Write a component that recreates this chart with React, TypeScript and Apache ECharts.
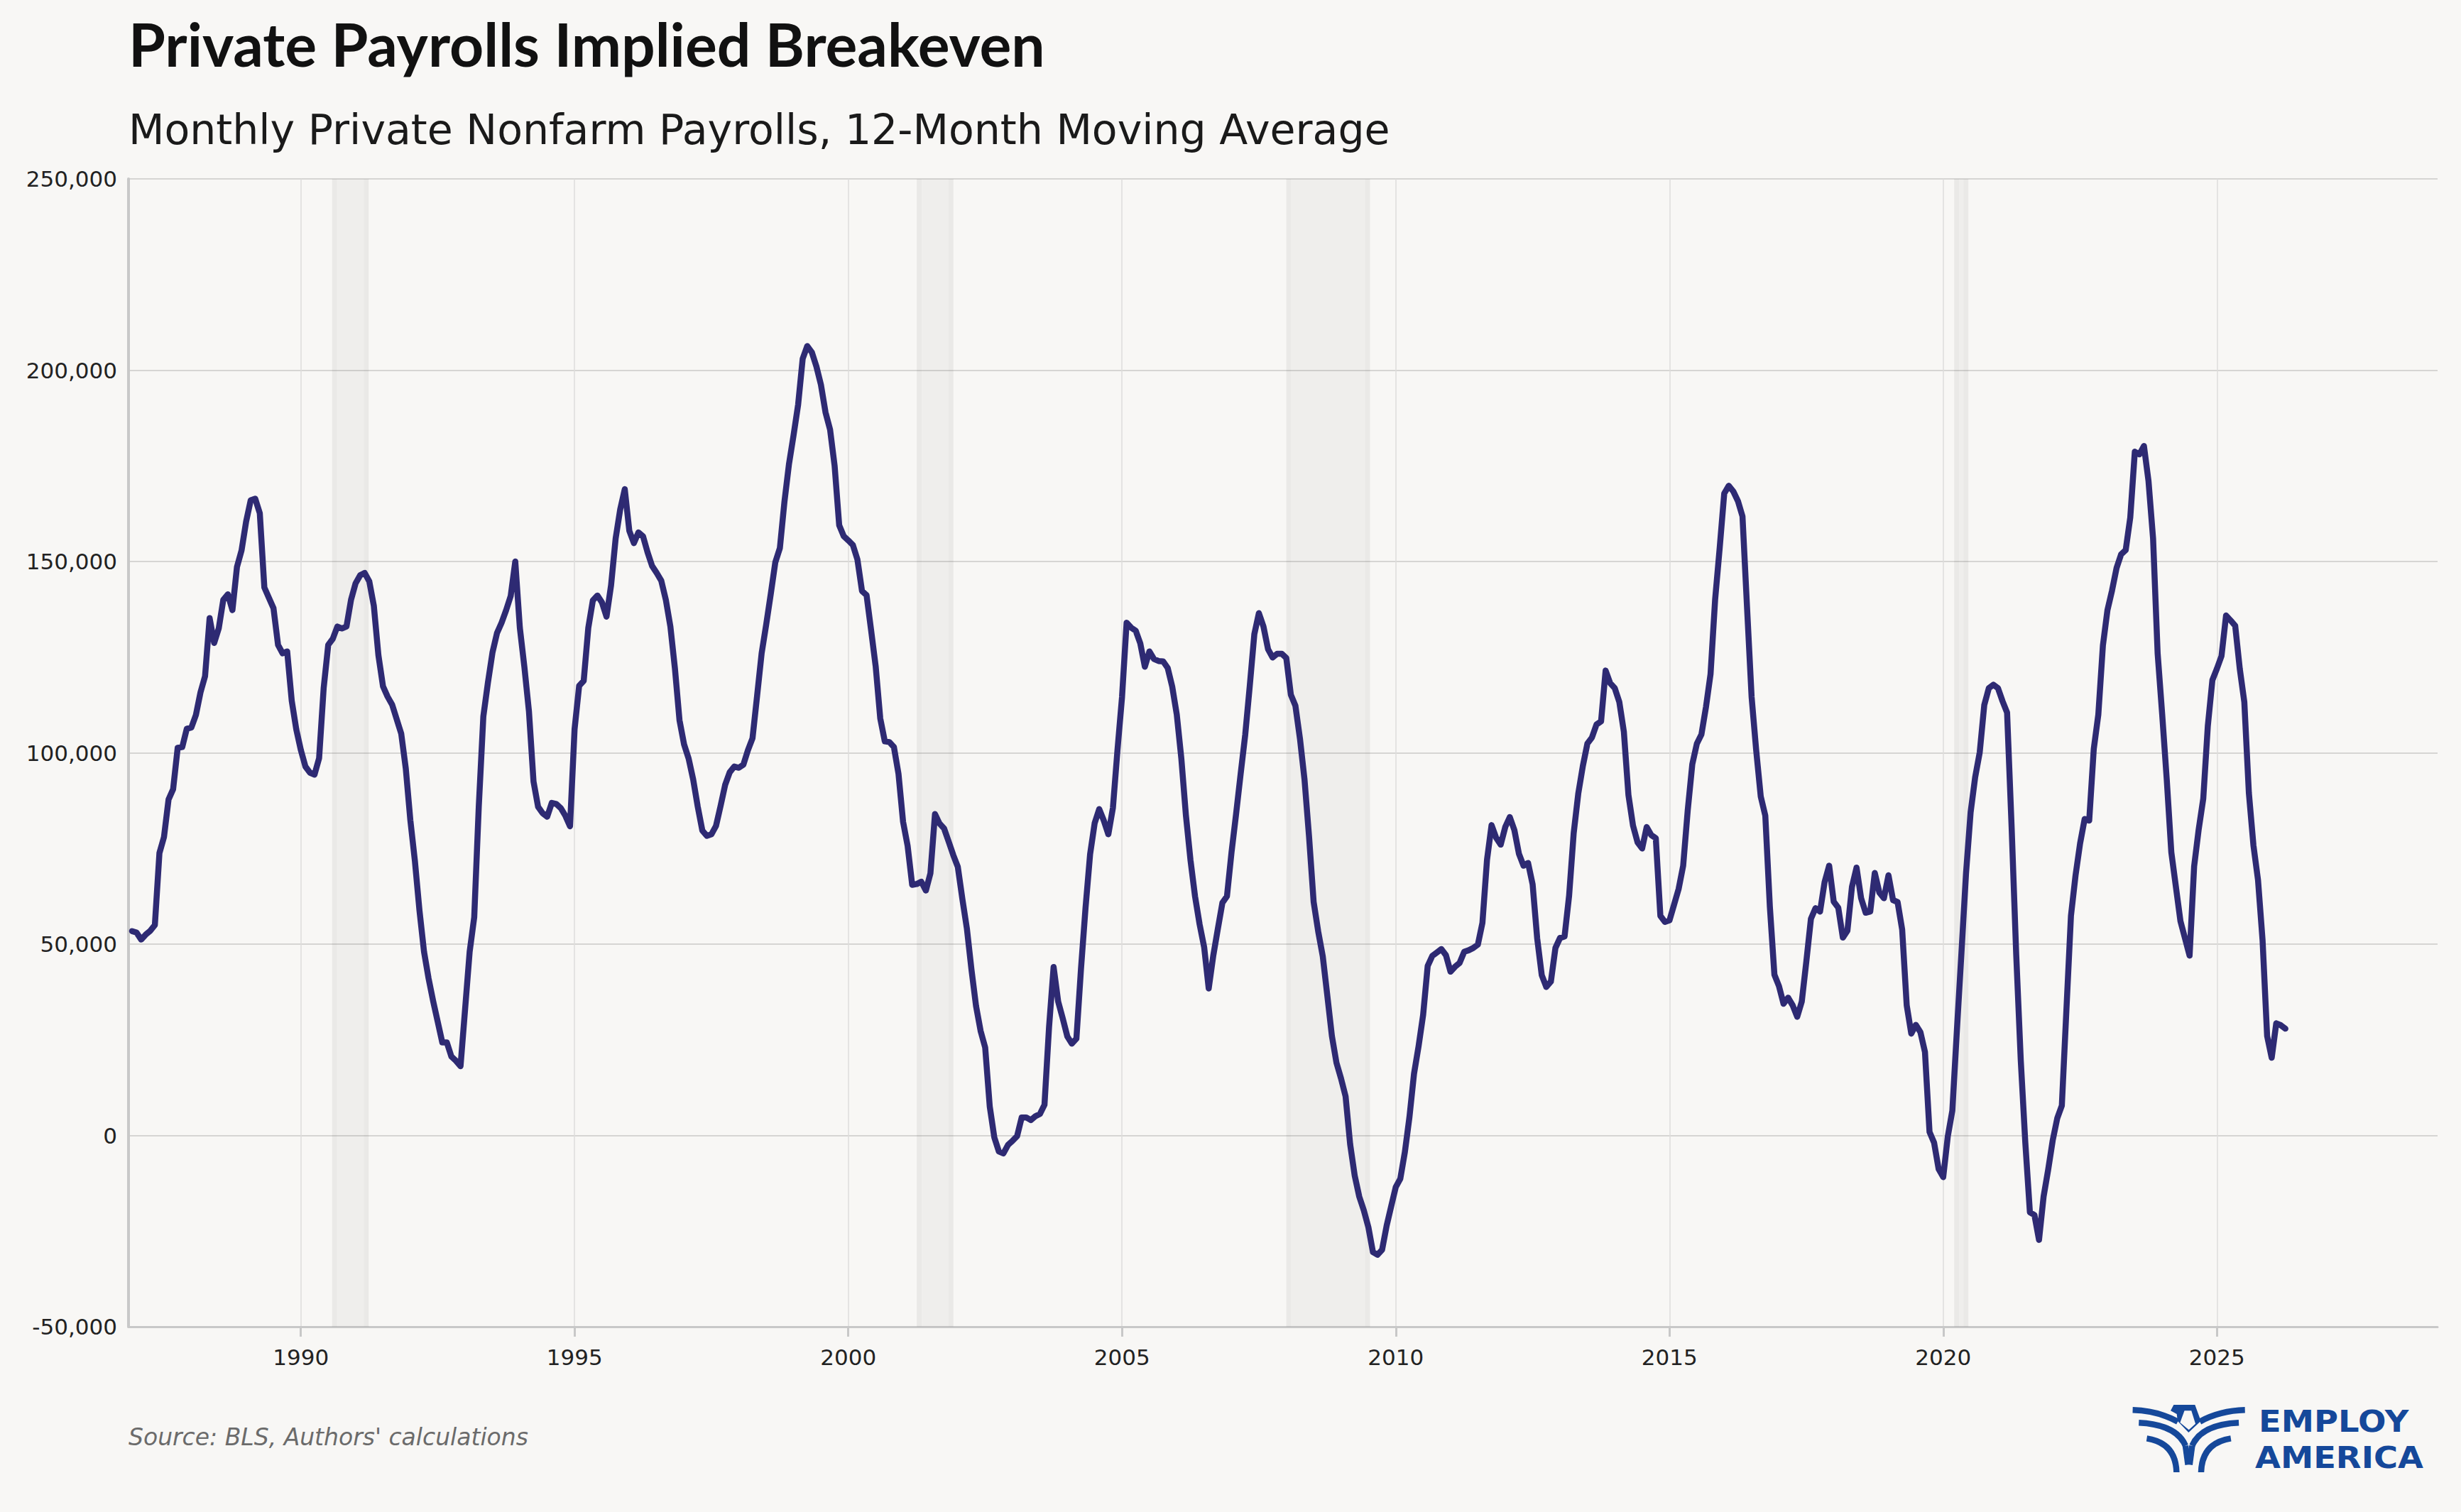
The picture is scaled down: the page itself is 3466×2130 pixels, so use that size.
import React, { useEffect, useRef } from "react";
import * as echarts from "echarts";

// ---------- data (thousands of jobs, 12-month moving average, monthly from Dec 1986) ----------
const FIRST_MONTH = 1986 + 11 / 12;

const payrolls1987to1992 = [
  53.4, 53.0, 51.2, 52.5, 53.5, 55.0, 73.8, 78.0, 87.8, 90.5,
  101.3, 101.5, 106.3, 106.6, 109.9, 115.8, 120.0, 135.2, 128.7, 132.5,
  140.0, 141.4, 137.3, 148.6, 152.9, 160.4, 166.0, 166.4, 162.6, 143.2,
  140.5, 137.8, 128.2, 126.0, 126.5, 113.6, 106.1, 100.7, 96.4, 94.8,
  94.3, 98.6, 116.9, 128.2, 129.8, 133.0, 132.5, 133.0, 140.0, 144.3,
  146.4, 147.0, 144.8, 138.4, 125.5, 117.4, 114.7, 112.6, 108.8, 105.0,
  95.9, 82.4, 71.7, 58.8, 48.0, 41.0, 35.1, 29.7, 24.3, 24.3,
  20.6, 19.5, 18.1,
];
const payrolls1993to1998 = [
  33, 48, 57, 86, 109.5, 118.3, 126.2, 131.3, 134, 137.3,
  141, 150, 132.7, 122.4, 110.8, 92.5, 85.9, 84.2, 83.3, 86.9,
  86.6, 85.5, 83.5, 80.8, 106.2, 117.5, 118.8, 132.6, 139.8, 141.1,
  139.3, 135.6, 143.8, 156, 163.6, 168.9, 158, 154.8, 157.6, 156.6,
  152.4, 148.8, 147, 145, 140, 133, 122, 108.5, 102.2, 98.5,
  93, 85.9, 79.7, 78.3, 78.7, 80.9, 86.1, 91.6, 94.9, 96.4,
  96.1, 96.9, 100.7,
];
const payrolls1998to2003 = [
  103.8, 114.8, 126, 133.5, 141.5, 149.8, 153.5, 165.6, 175.5, 183,
  191, 203, 206.3, 204.7, 201, 196.2, 189, 184.5, 175, 159.5,
  156.6, 155.5, 154.3, 150.5, 142.3, 141.2, 132, 122.6, 109, 103,
  102.8, 101.5, 94.5, 82, 75.7, 65.5, 65.7, 66.3, 64, 68.5,
  84, 81.5, 80.2, 76.8, 73.3, 70.2, 61.8, 54, 43.3, 33.8,
  27.3, 23, 7.6, -0.5, -4.2, -4.7, -2.5, -1.4, -0.2, 4.7,
  4.7, 4.0, 5.0,
];
const payrolls2003to2008 = [
  5.6, 8, 28.3, 44, 35, 30.6, 25.9, 24, 25.3, 43.5,
  59.5, 73.5, 81.6, 85.3, 82.3, 78.7, 85.6, 100.7, 114.6, 134,
  132.7, 131.9, 128.6, 122.5, 126.5, 124.5, 124.0, 123.9, 122.2, 117.3,
  110, 98.5, 83.7, 72, 62.5, 55.2, 49.2, 38.4, 47, 54,
  60.8, 62.5, 74, 84, 94.5, 104.7, 117.5, 131, 136.5, 133,
  127.1, 124.9, 125.9, 125.9, 124.8, 115.2, 112.3, 103.7, 93, 78,
  61, 53.3,
];
const payrolls2008to2013 = [
  46.8, 36.5, 26, 19, 14.9, 10.2, -2.3, -10.5, -16, -19.6,
  -24, -30.5, -31.2, -29.9, -23.6, -18.5, -13.5, -11.3, -4.3, 4.8,
  16.1, 23.3, 31.5, 44.3, 46.9, 47.8, 48.7, 47.1, 42.8, 44.1,
  45.1, 48, 48.4, 49, 49.9, 55.6, 72, 81.1, 77.8, 76,
  80.6, 83.2, 79.8, 73.6, 70.5, 71.2, 65.6, 51.5, 41.9, 38.8,
  40.2, 49, 51.6, 52, 62.7, 79, 89.3, 96.5, 102.4, 104,
  107.4, 108.2,
];
const payrolls2014to2019 = [
  121.5, 118.2, 116.9, 113.3, 105.5, 89, 81, 76.6, 75, 80.6,
  78.5, 77.7, 57.4, 55.8, 56.2, 60.3, 64.4, 70.5, 85, 97,
  102.4, 104.8, 112, 120.6, 140, 153.5, 167.8, 169.8, 168.3, 165.8,
  161.8, 138, 114.6, 100.7, 88.6, 83.6, 59.8, 42, 39, 34.4,
  36, 34, 31, 35, 45.5, 56.6, 59.4, 58.5, 66.2, 70.5,
  61.1, 59.5, 51.7, 53.5, 65, 70, 62, 58.2, 58.5, 68.6,
  63.5, 62, 68,
];
const payrolls2019to2026 = [
  61.5, 61, 53.8, 34, 26.6, 28.9, 27, 21.8, 0.9, -1.9,
  -8.8, -10.9, -0.3, 6.5, 27.5, 47.8, 68.5, 84.4, 93.6, 100.1,
  112.5, 116.9, 117.8, 116.9, 113.5, 110.5, 80.4, 47.3, 19.6, -2,
  -20.1, -20.8, -27.3, -16, -9, -1.3, 4.5, 7.8, 32.7, 57.4,
  67.9, 76.3, 82.7, 82.3, 101, 110, 128, 137.3, 142.4, 148.3,
  151.9, 153, 161.5, 178.7, 178, 180.2, 171, 156, 126, 110,
  93, 74, 65, 56, 51.5, 47, 70.3, 80, 88, 107,
  119, 122, 125.3, 135.9, 134.6, 133.2, 122, 113.3, 89.5, 75.8,
  66.8, 51, 26, 20.3, 29.3, 28.8, 27.9,
];

// NBER recessions, as decimal years
const recessions: [number, number][] = [
  [1990.57, 1991.24],
  [2001.25, 2001.92],
  [2008.0, 2009.53],
  [2020.2, 2020.46],
];

const xTickYears = [1990, 1995, 2000, 2005, 2010, 2015, 2020, 2025];
const X_MIN = 1986.852;
const X_MAX = 2029.03;
const Y_MIN = -50000;
const Y_MAX = 250000;
const Y_STEP = 50000;

const TITLE = "Private Payrolls Implied Breakeven";
const SUBTITLE = "Monthly Private Nonfarm Payrolls, 12-Month Moving Average";
const SOURCE = "Source: BLS, Authors' calculations";
const LOGO_LINE_1 = "EMPLOY";
const LOGO_LINE_2 = "AMERICA";

// ---------- styles ----------
const BG = "#f8f7f5";
const LINE_COLOR = "#2e2a73";
const LOGO_BLUE = "#15489a";
const BAND_EDGE = "rgba(0,0,0,0.055)";
const BAND_INNER = "rgba(0,0,0,0.035)";
const LABEL_FONT = "DejaVu Sans";

function logoElements(): any[] {
  const LX = (zx: number) => 2900 + zx / 2.77;
  const LY = (zy: number) => 1900 + zy / 3;
  const M = (zx: number) => 1012 - zx;
  const st = { stroke: LOGO_BLUE, lineWidth: 8.5, fill: null, lineCap: "butt", lineJoin: "miter" };
  const els: any[] = [];
  [false, true].forEach((mir) => {
    const f = (zx: number) => LX(mir ? M(zx) : zx);
    els.push({
      type: "bezierCurve",
      shape: { x1: f(287), y1: LY(259), cpx1: f(385), cpy1: LY(262), x2: f(463), y2: LY(308) },
      style: st,
    });
    els.push({
      type: "bezierCurve",
      shape: {
        x1: f(311), y1: LY(313), cpx1: f(410), cpy1: LY(318), cpx2: f(470), cpy2: LY(352),
        x2: f(493), y2: LY(410),
      },
      style: st,
    });
    els.push({
      type: "polyline",
      shape: { points: [[f(493), LY(410)], [f(503), LY(490)]] },
      style: st,
    });
    els.push({
      type: "bezierCurve",
      shape: { x1: f(342), y1: LY(379), cpx1: f(455), cpy1: LY(398), x2: f(458), y2: LY(522) },
      style: st,
    });
  });
  els.push({
    type: "polygon",
    shape: {
      points: [
        [LX(435), LY(262)], [LX(447), LY(237)], [LX(530), LY(237)], [LX(553), LY(305)],
        [LX(505), LY(354)], [LX(462), LY(305)], [LX(459), LY(276)],
      ],
    },
    style: { fill: LOGO_BLUE },
  });
  els.push({
    type: "polygon",
    shape: {
      points: [
        [LX(489), LY(262)], [LX(516), LY(262)], [LX(532), LY(317)], [LX(506), LY(343)], [LX(472), LY(312)],
      ],
    },
    style: { fill: BG },
  });
  const logoText = (text: string, x: number, y: number) => ({
    type: "text",
    x,
    y,
    scaleX: 1.08,
    style: {
      text, fontFamily: LABEL_FONT, fontWeight: "bold", fontSize: 43,
      fill: LOGO_BLUE, align: "left", verticalAlign: "middle",
    },
  });
  els.push(logoText(LOGO_LINE_1, 3181, 2002));
  els.push(logoText(LOGO_LINE_2, 3176, 2053));
  return els;
}

export default function App() {
  const ref = useRef<HTMLDivElement>(null);

  useEffect(() => {
    document.body.style.margin = "0";
    document.body.style.background = BG;
    const chart = echarts.init(ref.current as HTMLDivElement, null, { renderer: "svg" });

    const values: number[] = ([] as number[]).concat(
      payrolls1987to1992,
      payrolls1993to1998,
      payrolls1998to2003,
      payrolls2003to2008,
      payrolls2008to2013,
      payrolls2014to2019,
      payrolls2019to2026
    );
    const data = values.map((v, i) => [FIRST_MONTH + i / 12, v * 1000]);

    const EDGE = 0.09;
    const areas: any[] = [];
    recessions.forEach(([s, e]) => {
      areas.push([{ xAxis: s, itemStyle: { color: BAND_EDGE } }, { xAxis: s + EDGE }]);
      areas.push([{ xAxis: s + EDGE, itemStyle: { color: BAND_INNER } }, { xAxis: e - EDGE }]);
      areas.push([{ xAxis: e - EDGE, itemStyle: { color: BAND_EDGE } }, { xAxis: e }]);
    });

    chart.setOption({
      animation: false,
      backgroundColor: BG,
      grid: { left: 181, right: 33, top: 252, bottom: 261, containLabel: false },
      xAxis: {
        type: "value",
        min: X_MIN,
        max: X_MAX,
        axisLine: { show: true, onZero: false, lineStyle: { color: "#c8c8c8", width: 3 } },
        axisTick: {
          show: true,
          customValues: xTickYears,
          length: 14,
          lineStyle: { color: "#c8c8c8", width: 3 },
        },
        axisLabel: {
          customValues: xTickYears,
          formatter: (v: number) => String(Math.round(v)),
          fontFamily: LABEL_FONT,
          fontSize: 31,
          color: "#222222",
          margin: 27,
        },
        splitLine: { show: true, lineStyle: { color: "#dedddb", width: 1.5 } },
      },
      yAxis: {
        type: "value",
        min: Y_MIN,
        max: Y_MAX,
        interval: Y_STEP,
        axisLine: { show: true, lineStyle: { color: "#c8c8c8", width: 4 } },
        axisTick: { show: false },
        axisLabel: {
          formatter: (v: number) => v.toLocaleString("en-US"),
          fontFamily: LABEL_FONT,
          fontSize: 31,
          color: "#222222",
          margin: 16,
        },
        splitLine: { show: true, lineStyle: { color: "#d6d5d3", width: 2 } },
      },
      series: [
        {
          type: "line",
          data,
          symbol: "none",
          showSymbol: false,
          silent: true,
          lineStyle: { color: LINE_COLOR, width: 8.5, join: "round", cap: "round" },
          markArea: { silent: true, data: areas },
          z: 5,
        },
      ],
      graphic: [
        {
          type: "text",
          x: 181,
          y: 61,
          style: {
            text: TITLE, fontFamily: "Lato", fontWeight: "bold", fontSize: 84,
            fill: "#111111", align: "left", verticalAlign: "middle",
          },
        },
        {
          type: "text",
          x: 181,
          y: 183,
          style: {
            text: SUBTITLE, fontFamily: LABEL_FONT, fontSize: 58.5,
            fill: "#1a1a1a", align: "left", verticalAlign: "middle",
          },
        },
        {
          type: "text",
          x: 181,
          y: 2024,
          style: {
            text: SOURCE, fontFamily: LABEL_FONT, fontStyle: "italic", fontSize: 33,
            fill: "#6b6b6b", align: "left", verticalAlign: "middle",
          },
        },
        ...logoElements(),
      ],
    });

    return () => chart.dispose();
  }, []);

  return <div ref={ref} style={{ width: 3466, height: 2130 }} />;
}
